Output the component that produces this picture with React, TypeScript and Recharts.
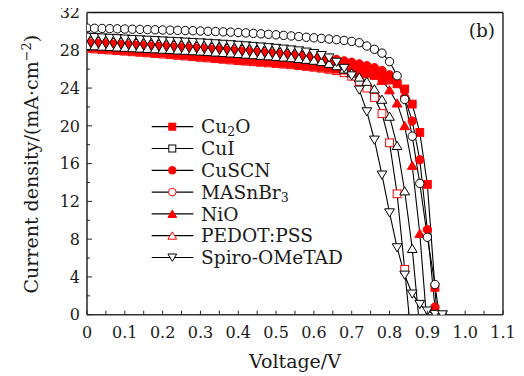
import React from 'react';
import { LineChart, Line, XAxis, YAxis, ReferenceLine, Legend } from 'recharts';

const FONT = 'DejaVu Serif';
const TEXT = '#1a1a1a';

// ---------- data ----------
const voltage = [0, 0.02, 0.04, 0.06, 0.08, 0.1, 0.12, 0.14, 0.16, 0.18, 0.2, 0.22, 0.24, 0.26, 0.28, 0.3, 0.32, 0.34, 0.36, 0.38, 0.4, 0.42, 0.44, 0.46, 0.48, 0.5, 0.52, 0.54, 0.56, 0.58, 0.6, 0.62, 0.64, 0.66, 0.68, 0.7, 0.72, 0.74, 0.76, 0.78, 0.8, 0.82, 0.84, 0.86, 0.88, 0.9, 0.92, 0.94];

const jMASnBr3 = [30.35, 30.33, 30.31, 30.29, 30.27, 30.25, 30.23, 30.21, 30.19, 30.17,
  30.15, 30.13, 30.11, 30.09, 30.07, 30.04, 30.01, 29.98, 29.95, 29.92,
  29.88, 29.84, 29.79, 29.74, 29.69, 29.64, 29.58, 29.52, 29.45, 29.38,
  29.32, 29.26, 29.19, 29.12, 29.04, 28.94, 28.8, 28.45, 28.1, 27.7,
  26.8, 25.3, 22.8, 18.9, 13.9, 8.2, 3.2, -2.5];

const jSpiro = [29.4, 29.36, 29.32, 29.28, 29.24, 29.2, 29.16, 29.12, 29.08, 29.04,
  29.0, 28.96, 28.92, 28.88, 28.84, 28.8, 28.75, 28.7, 28.65, 28.6,
  28.54, 28.48, 28.42, 28.36, 28.29, 28.22, 28.14, 28.05, 27.95, 27.82,
  27.66, 27.46, 27.2, 26.75, 26.1, 25.3, 23.8, 21.5, 18.5, 14.8,
  10.8, 7.1, 4.2, 2.2, 1.1, 0.4, 0.05, 0];

const jPEDOT = [28.5, 28.46, 28.42, 28.38, 28.34, 28.3, 28.26, 28.22, 28.18, 28.14,
  28.1, 28.06, 28.02, 27.98, 27.94, 27.9, 27.85, 27.8, 27.75, 27.7,
  27.64, 27.58, 27.52, 27.46, 27.4, 27.34, 27.27, 27.2, 27.12, 27.03,
  26.93, 26.8, 26.6, 26.35, 26.0, 25.6, 25.15, 24.7, 23.9, 22.8,
  21.0, 17.9, 13.1, 7.0, -1.5, null, null, null];

const jCu2O = [28.3, 28.24, 28.18, 28.12, 28.06, 28.0, 27.94, 27.88, 27.82, 27.76,
  27.7, 27.63, 27.56, 27.49, 27.42, 27.35, 27.28, 27.21, 27.14, 27.07,
  27.0, 26.94, 26.88, 26.82, 26.76, 26.7, 26.63, 26.56, 26.48, 26.39,
  26.3, 26.2, 26.1, 26.0, 25.9, 25.78, 25.65, 25.5, 25.33, 25.12,
  24.85, 24.45, 23.9, 22.3, 19.3, 13.8, 2.9, -8];

const jCuSCN = [28.95, 28.91, 28.87, 28.83, 28.79, 28.75, 28.71, 28.67, 28.63, 28.59,
  28.55, 28.51, 28.47, 28.43, 28.39, 28.35, 28.3, 28.25, 28.2, 28.15,
  28.09, 28.03, 27.97, 27.91, 27.85, 27.79, 27.72, 27.65, 27.57, 27.48,
  27.38, 27.27, 27.15, 27.02, 26.88, 26.73, 26.56, 26.37, 26.15, 25.85,
  25.4, 24.6, 23.0, 20.5, 16.4, 9.0, 0.8, -8];

const jNiO = [28.9, 28.86, 28.82, 28.78, 28.74, 28.7, 28.66, 28.62, 28.58, 28.54,
  28.5, 28.46, 28.42, 28.38, 28.34, 28.3, 28.25, 28.2, 28.15, 28.1,
  28.04, 27.98, 27.92, 27.86, 27.8, 27.74, 27.67, 27.6, 27.52, 27.43,
  27.33, 27.22, 27.1, 26.96, 26.8, 26.6, 26.35, 26.0, 25.5, 24.8,
  23.8, 22.4, 20.0, 15.8, 8.6, -1.5, null, null];

const jCuI = [28.2, 28.14, 28.08, 28.02, 27.96, 27.9, 27.84, 27.78, 27.72, 27.66,
  27.6, 27.53, 27.46, 27.39, 27.32, 27.25, 27.18, 27.11, 27.04, 26.97,
  26.9, 26.84, 26.78, 26.72, 26.66, 26.6, 26.53, 26.46, 26.38, 26.29,
  26.2, 26.1, 25.98, 25.84, 25.62, 25.25, 24.7, 24.0, 23.0, 21.3,
  18.2, 12.8, 4.8, -3.5, null, null, null, null];

const seriesKeys = ['cu2o', 'cui', 'cuscn', 'masnbr3', 'nio', 'pedot', 'spiro'];
const seriesNames = ['Cu2O', 'CuI', 'CuSCN', 'MASnBr3', 'NiO', 'PEDOT:PSS', 'Spiro-OMeTAD'];
const seriesValues: Record<string, (number | null)[]> = {
  cu2o: jCu2O, cui: jCuI, cuscn: jCuSCN, masnbr3: jMASnBr3, nio: jNiO, pedot: jPEDOT, spiro: jSpiro,
};

const xTicks = [0, 0.05, 0.1, 0.15, 0.2, 0.25, 0.3, 0.35, 0.4, 0.45, 0.5, 0.55, 0.6, 0.65, 0.7, 0.75, 0.8, 0.85, 0.9, 0.95, 1.0, 1.05, 1.1];
const xTickLabels = ['0', '', '0.1', '', '0.2', '', '0.3', '', '0.4', '', '0.5', '', '0.6', '', '0.7', '', '0.8', '', '0.9', '', '1.0', '', '1.1'];
const yTicks = [0, 2, 4, 6, 8, 10, 12, 14, 16, 18, 20, 22, 24, 26, 28, 30, 32];
const yTickLabels = ['0', '', '4', '', '8', '', '12', '', '16', '', '20', '', '24', '', '28', '', '32'];

const tableData = voltage.map((v, i) => {
  const row: Record<string, number | null> = { v };
  seriesKeys.forEach((k) => { row[k] = seriesValues[k][i]; });
  return row;
});

// ---------- styles ----------
type Shape = 'square' | 'circle' | 'up' | 'down';
interface MarkStyle { shape: Shape; fill: string; stroke: string; }
const RED = '#ff0000';

const legendMarks: Record<string, MarkStyle> = {
  cu2o: { shape: 'square', fill: RED, stroke: RED },
  cui: { shape: 'square', fill: '#fff', stroke: '#000' },
  cuscn: { shape: 'circle', fill: RED, stroke: RED },
  masnbr3: { shape: 'circle', fill: '#fff', stroke: RED },
  nio: { shape: 'up', fill: RED, stroke: RED },
  pedot: { shape: 'up', fill: '#fff', stroke: RED },
  spiro: { shape: 'down', fill: '#fff', stroke: '#000' },
};

const plotMarks: Record<string, MarkStyle> = {
  cui: { shape: 'square', fill: '#fff', stroke: RED },
  cu2o: { shape: 'square', fill: RED, stroke: RED },
  cuscn: { shape: 'circle', fill: RED, stroke: RED },
  nio: { shape: 'up', fill: RED, stroke: RED },
  pedot: { shape: 'up', fill: '#fff', stroke: '#000' },
  spiro: { shape: 'down', fill: '#fff', stroke: '#000' },
  masnbr3: { shape: 'circle', fill: '#fff', stroke: '#000' },
};

const drawOrder = ['cui', 'cu2o', 'cuscn', 'nio', 'pedot', 'spiro', 'masnbr3'];

function Mark({ cx, cy, m, h }: { cx: number; cy: number; m: MarkStyle; h: number }) {
  const common = { fill: m.fill, stroke: m.stroke, strokeWidth: 1 };
  if (m.shape === 'square') return <rect x={cx - h} y={cy - h} width={2 * h} height={2 * h} {...common} />;
  if (m.shape === 'circle') return <circle cx={cx} cy={cy} r={h + 0.3} {...common} />;
  if (m.shape === 'up') {
    return <polygon points={`${cx},${cy - h * 1.1} ${cx + h * 1.25},${cy + h} ${cx - h * 1.25},${cy + h}`} {...common} />;
  }
  return <polygon points={`${cx - h * 1.25},${cy - h} ${cx + h * 1.25},${cy - h} ${cx},${cy + h * 1.1}`} {...common} />;
}

const makeDot = (m: MarkStyle) => (props: any) => {
  const { cx, cy, index, value } = props;
  if (cx == null || cy == null || value == null || Number.isNaN(cy)) return <g key={`d-${index}`} />;
  return <g key={`d-${index}`}><Mark cx={cx} cy={cy} m={m} h={3.9} /></g>;
};

const XTick = (p: any) => {
  const { x, y, index } = p;
  const lbl = xTickLabels[index] ?? '';
  return (
    <g>
      <line x1={x} x2={x} y1={y} y2={y - 4} stroke="#222" strokeWidth={1} />
      {lbl !== '' && (
        <text x={x} y={y + 23} textAnchor="middle" fontSize={16} fontFamily={FONT} fill={TEXT}>{lbl}</text>
      )}
    </g>
  );
};

const YTick = (p: any) => {
  const { x, y, index } = p;
  const lbl = yTickLabels[index] ?? '';
  const major = lbl !== '';
  return (
    <g>
      <line x1={x} x2={x + (major ? 5 : 3)} y1={y} y2={y} stroke="#222" strokeWidth={1} />
      {major && (
        <text x={x - 7} y={y} dy="0.36em" textAnchor="end" fontSize={16} fontFamily={FONT} fill={TEXT}>{lbl}</text>
      )}
    </g>
  );
};

const XLabel = (p: any) => {
  const vb = p.viewBox || { x: 87, y: 314.7, width: 416, height: 30 };
  return (
    <text x={vb.x + vb.width / 2} y={vb.y + 53} textAnchor="middle" fontSize={19} fontFamily={FONT} fill={TEXT}>Voltage/V</text>
  );
};

const YLabel = (p: any) => {
  const vb = p.viewBox || { x: 0, y: 12.5, width: 87, height: 302.2 };
  const cy = vb.y + vb.height / 2 + 0.5;
  return (
    <text transform={`translate(37.5, ${cy}) rotate(-90)`} x={0} y={0} textAnchor="middle" fontSize={19} fontFamily={FONT} fill={TEXT}>
      Current density/(mA·cm<tspan dy={-7} fontSize={13}>−2</tspan><tspan dy={7}>)</tspan>
    </text>
  );
};

const PanelLabel = (p: any) => {
  const vb = p.viewBox || { x: 87, y: 12.5, width: 416, height: 0 };
  return (
    <text x={vb.x + vb.width - 8} y={vb.y + 24} textAnchor="end" fontSize={18.5} fontFamily={FONT} fill={TEXT}>(b)</text>
  );
};

const renderName = (name: string) => {
  const parts = name.split(/(\d)/).filter((s) => s !== '');
  let sub = false;
  return parts.map((s, i) => {
    if (/^\d$/.test(s)) { sub = true; return <tspan key={i} dy={3} fontSize={12.5}>{s}</tspan>; }
    if (sub) { sub = false; return <tspan key={i} dy={-3}>{s}</tspan>; }
    return <tspan key={i}>{s}</tspan>;
  });
};

const LegendBox = () => (
  <svg width={215} height={160} style={{ overflow: 'visible', display: 'block' }}>
    {seriesKeys.map((k, i) => {
      const y = 14.7 + i * 21.8;
      return (
        <g key={k}>
          <line x1={6.7} x2={48.3} y1={y} y2={y} stroke="#000" strokeWidth={1.2} />
          <Mark cx={27.3} cy={y} m={legendMarks[k]} h={3.5} />
          <text x={56} y={y} dy="0.36em" fontSize={18.6} fontFamily={FONT} fill={TEXT}>{renderName(seriesNames[i])}</text>
        </g>
      );
    })}
  </svg>
);

export default function App() {
  return (
    <div style={{ margin: '-8px 0 0 -8px', width: 524, height: 376 }}>
      <LineChart width={524} height={376} data={tableData} margin={{ top: 12.5, right: 21, bottom: 31.3, left: 0 }}>
        <XAxis
          dataKey="v"
          type="number"
          domain={[0, 1.1]}
          ticks={xTicks}
          interval={0}
          tickSize={0}
          tickMargin={0}
          tickLine={false}
          tick={(p: any) => <XTick {...p} />}
          height={30}
          allowDataOverflow
          axisLine={{ stroke: '#333', strokeWidth: 1.6 }}
          label={{ content: XLabel }}
        />
        <YAxis
          type="number"
          domain={[0, 32]}
          ticks={yTicks}
          interval={0}
          tickSize={0}
          tickMargin={0}
          tickLine={false}
          tick={(p: any) => <YTick {...p} />}
          width={87}
          allowDataOverflow
          axisLine={{ stroke: '#333', strokeWidth: 1.6 }}
          label={{ content: YLabel }}
        />
        <ReferenceLine y={32} stroke="#111" strokeWidth={1.3} label={{ content: PanelLabel }} />
        <ReferenceLine x={1.1} stroke="#111" strokeWidth={1.3} />
        {drawOrder.map((k) => (
          <Line
            key={k}
            dataKey={k}
            name={seriesNames[seriesKeys.indexOf(k)]}
            type="linear"
            stroke="#000"
            strokeWidth={1.1}
            dot={makeDot(plotMarks[k])}
            activeDot={false}
            connectNulls={false}
            isAnimationActive={false}
            legendType="none"
          />
        ))}
        <Legend
          layout="vertical"
          align="center"
          verticalAlign="middle"
          wrapperStyle={{ left: 145, top: 112, width: 215, height: 160 }}
          content={() => <LegendBox />}
        />
      </LineChart>
    </div>
  );
}
